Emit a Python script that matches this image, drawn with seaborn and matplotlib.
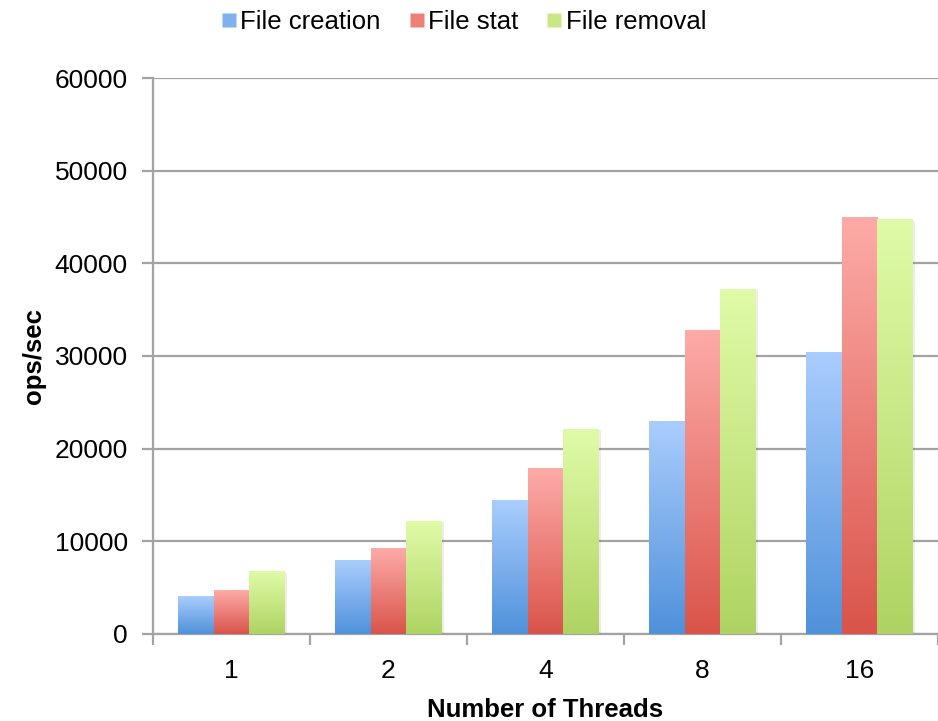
import numpy as np
import pandas as pd
import matplotlib
matplotlib.use("Agg")
import matplotlib.pyplot as plt
import seaborn as sns
from matplotlib.colors import LinearSegmentedColormap
from matplotlib.lines import Line2D
import matplotlib.patheffects as pe

threads = ["1", "2", "4", "8", "16"]
operations = ["File creation", "File stat", "File removal"]
creation = [4100, 7980, 14460, 22980, 30350]
stat = [4650, 9200, 17900, 32750, 45000]
removal = [6750, 12190, 22120, 37230, 44680]

# top (light) / bottom (dark) colours of each gradient
grad_top = ["#aacdfd", "#fdaba8", "#e0fba8"]
grad_bottom = ["#4f91da", "#d9544a", "#afd362"]
mid_colors = ["#7eb1ee", "#ee8078", "#c8e887"]

df = pd.DataFrame({
    "threads": threads * 3,
    "op": [o for o in operations for _ in threads],
    "ops": creation + stat + removal,
})

sns.set_style("white")
plt.rcParams["font.family"] = ["Liberation Sans", "DejaVu Sans"]
plt.rcParams["text.color"] = "black"
plt.rcParams["axes.labelcolor"] = "black"
plt.rcParams["xtick.labelcolor"] = "black"
plt.rcParams["ytick.labelcolor"] = "black"

fig = plt.figure(figsize=(9.38, 7.21), dpi=100)
ax = fig.add_axes([0.163, 0.1207, 0.837, 0.7711])

sns.barplot(data=df, x="threads", y="ops", hue="op", order=threads,
            hue_order=operations, palette=mid_colors, width=0.675,
            saturation=1, legend=False, ax=ax, zorder=3)

grad = np.linspace(0, 1, 256).reshape(-1, 1)
for i, container in enumerate(ax.containers):
    cmap = LinearSegmentedColormap.from_list("g%d" % i, [grad_bottom[i], grad_top[i]])
    for bar in container:
        x0, y0 = bar.get_x(), bar.get_y()
        w, h = bar.get_width(), bar.get_height()
        bar.set_edgecolor("none")
        bar.set_path_effects([pe.SimplePatchShadow(offset=(2, -1), shadow_rgbFace="#000000", alpha=0.07),
                              pe.Normal()])
        ax.imshow(grad, extent=[x0, x0 + w, y0, y0 + h], origin="lower",
                  aspect="auto", cmap=cmap, zorder=4, interpolation="bilinear")

ax.set_xlim(-0.5, 4.5)
ax.set_ylim(0, 60000)
ax.set_yticks(np.arange(0, 60001, 10000))
ax.set_xticks(range(5))
ax.set_xticklabels(threads)
ax.set_xticks(np.arange(-0.5, 4.6, 1), minor=True)

ax.grid(axis="y", color="#a3a3a3", linewidth=1.6, zorder=0)
ax.set_axisbelow(True)
for s in ["top", "right"]:
    ax.spines[s].set_visible(False)
for s in ["left", "bottom"]:
    ax.spines[s].set_color("#a3a3a3")
    ax.spines[s].set_linewidth(1.6)

ax.tick_params(axis="x", which="major", length=0, pad=18, labelsize=19)
ax.tick_params(axis="x", which="minor", length=8, width=1.6, color="#a3a3a3", direction="out", bottom=True)
ax.tick_params(axis="y", length=8, width=1.6, color="#a3a3a3", direction="out", left=True, pad=10, labelsize=19)

ax.set_xlabel("Number of Threads", fontsize=18.5, fontweight="bold", labelpad=11)
ax.set_ylabel("ops/sec", fontsize=18.5, fontweight="bold", labelpad=6)

handles = [Line2D([], [], marker="s", linestyle="none", markersize=10,
                  markerfacecolor=c, markeredgecolor="none") for c in mid_colors]
fig.legend(handles, operations, loc="center", bbox_to_anchor=(0.493, 0.969), ncol=3,
           frameon=False, fontsize=18.5, handletextpad=0.05, columnspacing=1.0,
           handlelength=0.8)

fig.savefig("out.png", dpi=100)
